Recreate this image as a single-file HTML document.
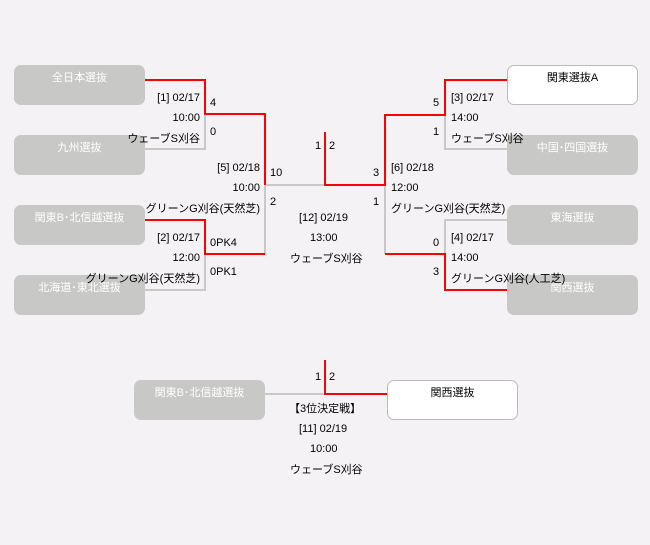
<!DOCTYPE html>
<html><head><meta charset="utf-8"><style>
body{margin:0;width:650px;height:545px;background:#f4f2f5;position:relative;overflow:hidden;font-family:"Liberation Sans","Noto Sans CJK JP",sans-serif;font-size:11px;color:#000}
.b{position:absolute;width:131px;height:40px;border-radius:7px;background:#c8c8c6;color:#fff;text-align:center;line-height:26px;font-size:11px}
.w{background:#fff;border:1px solid #bbb;color:#000;width:129px;height:38px;line-height:24px}
.t{position:absolute;white-space:nowrap;line-height:14px}
.r{text-align:right}
svg{position:absolute;left:0;top:0}
</style></head><body>
<svg width="650" height="545">
<g fill="none" stroke-width="2">
<g stroke="#c8c8c6">
<polyline points="145,149 205,149 205,114"/>
<polyline points="145,290 205,290 205,254"/>
<polyline points="265,185 265,254"/>
<polyline points="265,185 325,185"/>
<polyline points="385,185 385,254"/>
<polyline points="507,149 445,149 445,115"/>
<polyline points="507,220 445,220 445,254"/>
<polyline points="265,394 325,394"/>
</g>
<g stroke="#f00">
<polyline points="145,80 205,80 205,114 265,114 265,185"/>
<polyline points="145,220 205,220 205,254 265,254"/>
<polyline points="325,132 325,185 385,185 385,115 445,115 445,80 507,80"/>
<polyline points="385,254 445,254 445,290 507,290"/>
<polyline points="325,360 325,394 387,394"/>
</g>
</g>
</svg>
<div class="b" style="left:14px;top:65px">全日本選抜</div>
<div class="b" style="left:14px;top:135px">九州選抜</div>
<div class="b" style="left:14px;top:205px">関東B･北信越選抜</div>
<div class="b" style="left:14px;top:275px">北海道･東北選抜</div>
<div class="b w" style="left:507px;top:65px">関東選抜A</div>
<div class="b" style="left:507px;top:135px">中国･四国選抜</div>
<div class="b" style="left:507px;top:205px">東海選抜</div>
<div class="b" style="left:507px;top:275px">関西選抜</div>
<div class="b" style="left:134px;top:380px">関東B･北信越選抜</div>
<div class="b w" style="left:387px;top:380px">関西選抜</div>

<div class="t r" style="right:450px;top:91px">[1] 02/17</div>
<div class="t r" style="right:450px;top:111px">10:00</div>
<div class="t r" style="right:450px;top:132px">ウェーブS刈谷</div>
<div class="t" style="left:210px;top:96px">4</div>
<div class="t" style="left:210px;top:125px">0</div>
<div class="t r" style="right:390px;top:161px">[5] 02/18</div>
<div class="t r" style="right:390px;top:181px">10:00</div>
<div class="t r" style="right:390px;top:202px">グリーンG刈谷(天然芝)</div>
<div class="t" style="left:270px;top:166px">10</div>
<div class="t" style="left:270px;top:195px">2</div>
<div class="t r" style="right:450px;top:231px">[2] 02/17</div>
<div class="t r" style="right:450px;top:251px">12:00</div>
<div class="t r" style="right:450px;top:272px">グリーンG刈谷(天然芝)</div>
<div class="t" style="left:210px;top:236px">0PK4</div>
<div class="t" style="left:210px;top:265px">0PK1</div>

<div class="t" style="left:315px;top:139px">1</div>
<div class="t" style="left:329px;top:139px">2</div>
<div class="t" style="left:299px;top:211px">[12] 02/19</div>
<div class="t" style="left:310px;top:231px">13:00</div>
<div class="t" style="left:290px;top:252px">ウェーブS刈谷</div>

<div class="t" style="left:451px;top:91px">[3] 02/17</div>
<div class="t" style="left:451px;top:111px">14:00</div>
<div class="t" style="left:451px;top:132px">ウェーブS刈谷</div>
<div class="t" style="left:433px;top:96px">5</div>
<div class="t" style="left:433px;top:125px">1</div>
<div class="t" style="left:391px;top:161px">[6] 02/18</div>
<div class="t" style="left:391px;top:181px">12:00</div>
<div class="t" style="left:391px;top:202px">グリーンG刈谷(天然芝)</div>
<div class="t" style="left:373px;top:166px">3</div>
<div class="t" style="left:373px;top:195px">1</div>
<div class="t" style="left:451px;top:231px">[4] 02/17</div>
<div class="t" style="left:451px;top:251px">14:00</div>
<div class="t" style="left:451px;top:272px">グリーンG刈谷(人工芝)</div>
<div class="t" style="left:433px;top:236px">0</div>
<div class="t" style="left:433px;top:265px">3</div>

<div class="t" style="left:315px;top:370px">1</div>
<div class="t" style="left:329px;top:370px">2</div>
<div class="t" style="left:289px;top:402px">【3位決定戦】</div>
<div class="t" style="left:299px;top:422px">[11] 02/19</div>
<div class="t" style="left:310px;top:442px">10:00</div>
<div class="t" style="left:290px;top:463px">ウェーブS刈谷</div>
</body></html>
